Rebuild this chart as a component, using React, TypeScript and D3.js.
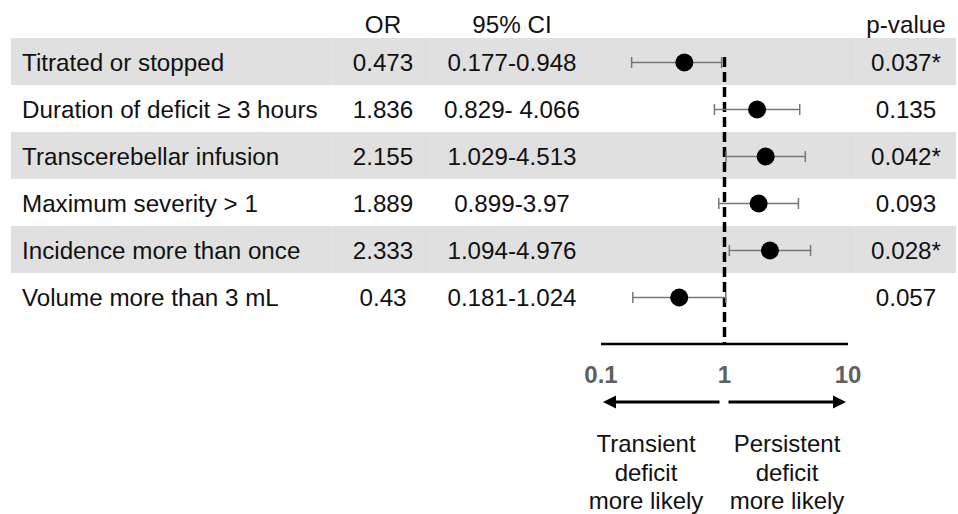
import * as d3 from 'd3'

// table content
const factors = [
  'Titrated or stopped',
  'Duration of deficit \u2265 3 hours',
  'Transcerebellar infusion',
  'Maximum severity > 1',
  'Incidence more than once',
  'Volume more than 3 mL',
]
const orValues = [0.473, 1.836, 2.155, 1.889, 2.333, 0.43]
const ciLow = [0.177, 0.829, 1.029, 0.899, 1.094, 0.181]
const ciHigh = [0.948, 4.066, 4.513, 3.97, 4.976, 1.024]
const orLabels = ['0.473', '1.836', '2.155', '1.889', '2.333', '0.43']
const ciLabels = ['0.177-0.948', '0.829- 4.066', '1.029-4.513', '0.899-3.97', '1.094-4.976', '0.181-1.024']
const pLabels = ['0.037*', '0.135', '0.042*', '0.093', '0.028*', '0.057']
const axisTicks = [0.1, 1, 10]

const W = 958
const H = 514
const FONT = '"Liberation Sans", Arial, Helvetica, sans-serif'
const COL = { label: 22, or: 383, ci: 512, p: 906 }
const SEPS = [332, 430, 855]

export default function App() {
  const y = d3.scaleBand<number>()
    .domain(d3.range(factors.length))
    .range([38, 320])

  const x = d3.scaleLog()
    .domain([0.1, 10])
    .range([601, 848])

  const axisY = 344
  const arrowY = 402
  const bw = y.bandwidth()

  return (
    <div style={{ position: 'absolute', left: 0, top: 0 }}>
      <svg width={W} height={H} style={{ display: 'block' }} fontFamily={FONT}>
        <rect width={W} height={H} fill="#fff" />

        {/* shaded rows */}
        {factors.map((f, i) => i % 2 === 0 && (
          <g key={'bg' + i}>
            <rect x={11} y={y(i)} width={W - 13} height={bw} fill="#e0e0e0" />
            {SEPS.map(s => (
              <line key={s} x1={s} x2={s} y1={y(i)} y2={y(i)! + bw} stroke="#e5e5e5" strokeWidth={1} />
            ))}
          </g>
        ))}

        {/* header */}
        <g fontSize={24.2} fill="#111" textAnchor="middle">
          <text x={COL.or} y={33}>OR</text>
          <text x={COL.ci} y={33}>95% CI</text>
          <text x={COL.p} y={33}>p-value</text>
        </g>

        {/* table text */}
        {factors.map((f, i) => {
          const ty = y(i)! + bw / 2 + 9
          return (
            <g key={f} fontSize={24.2} fill="#111">
              <text x={COL.label} y={ty}>{f}</text>
              <text x={COL.or} y={ty} textAnchor="middle">{orLabels[i]}</text>
              <text x={COL.ci} y={ty} textAnchor="middle">{ciLabels[i]}</text>
              <text x={COL.p} y={ty} textAnchor="middle">{pLabels[i]}</text>
            </g>
          )
        })}

        {/* reference line at OR = 1 */}
        <line x1={x(1)} x2={x(1)} y1={57} y2={axisY} stroke="#000" strokeWidth={3.5} strokeDasharray="10,5" />

        {/* confidence intervals */}
        {factors.map((f, i) => {
          const cy = y(i)! + bw / 2 + 1
          return (
            <g key={'ci' + i}>
              <line x1={x(ciLow[i])} x2={x(ciHigh[i])} y1={cy} y2={cy} stroke="#777" strokeWidth={1.5} />
              <line x1={x(ciLow[i])} x2={x(ciLow[i])} y1={cy - 5.5} y2={cy + 5.5} stroke="#777" strokeWidth={1.5} />
              <line x1={x(ciHigh[i])} x2={x(ciHigh[i])} y1={cy - 5.5} y2={cy + 5.5} stroke="#777" strokeWidth={1.5} />
              <circle cx={x(orValues[i])} cy={cy} r={9} fill="#000" />
            </g>
          )
        })}

        {/* axis */}
        <line x1={x(0.1)} x2={x(10)} y1={axisY} y2={axisY} stroke="#000" strokeWidth={2.5} />
        {axisTicks.map(t => (
          <text key={t} x={x(t)} y={383} textAnchor="middle" fontSize={24} fontWeight="bold" fill="#606060">
            {t}
          </text>
        ))}

        {/* direction arrows */}
        <line x1={x(1) - 5} x2={x(0.1) + 10} y1={arrowY} y2={arrowY} stroke="#000" strokeWidth={3} />
        <path d={`M${x(0.1) + 2},${arrowY} l13,-6.5 v13 z`} fill="#000" />
        <line x1={x(1) + 4} x2={x(10) - 10} y1={arrowY} y2={arrowY} stroke="#000" strokeWidth={3} />
        <path d={`M${x(10) - 2},${arrowY} l-13,-6.5 v13 z`} fill="#000" />

        <g fontSize={24} fill="#111" textAnchor="middle">
          <text x={646} y={452}>Transient</text>
          <text x={646} y={480.5}>deficit</text>
          <text x={646} y={509}>more likely</text>
          <text x={787} y={452}>Persistent</text>
          <text x={787} y={480.5}>deficit</text>
          <text x={787} y={509}>more likely</text>
        </g>
      </svg>
    </div>
  )
}
